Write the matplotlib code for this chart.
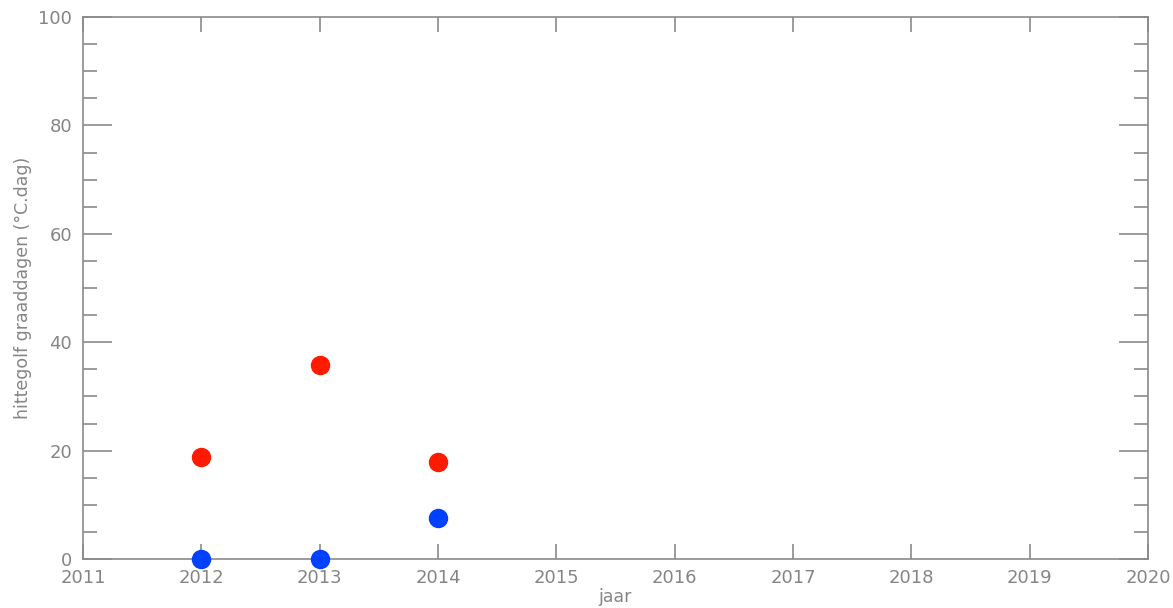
import matplotlib.pyplot as plt
from matplotlib.ticker import MultipleLocator

# hittegolf graaddagen per jaar
years = [2012, 2013, 2014]
red_values = [18.8, 35.8, 17.9]
blue_values = [0.0, 0.0, 7.6]

grey = '#8a8a8a'
text_grey = '#858585'

fig = plt.figure(figsize=(11.73, 6.08), dpi=100)
ax = fig.add_axes([83 / 1173, 1 - 559 / 608, (1148 - 83) / 1173, (559 - 17) / 608])

ax.plot(years, red_values, 'o', color='#ff1a00', markersize=13, clip_on=False, zorder=3)
ax.plot(years, blue_values, 'o', color='#0040ff', markersize=13, clip_on=False, zorder=3)

ax.set_xlim(2011, 2020)
ax.set_ylim(0, 100)
ax.xaxis.set_major_locator(MultipleLocator(1))
ax.yaxis.set_major_locator(MultipleLocator(20))
ax.yaxis.set_minor_locator(MultipleLocator(5))

for side in ax.spines.values():
    side.set_color(grey)
    side.set_linewidth(1.2)

ax.tick_params(axis='both', which='both', direction='in', color=grey, width=1.2,
               top=True, right=True, labelcolor=text_grey, labelsize=13)
ax.tick_params(axis='x', which='major', length=11, pad=7)
ax.tick_params(axis='y', which='major', length=21, pad=8)
ax.tick_params(axis='y', which='minor', length=10)

ax.set_xlabel('jaar', color=text_grey, fontsize=12.5, labelpad=1)
ax.set_ylabel('hittegolf graaddagen (°C.dag)', color=text_grey, fontsize=12.5, labelpad=4)

fig.savefig('out.png', dpi=100)
